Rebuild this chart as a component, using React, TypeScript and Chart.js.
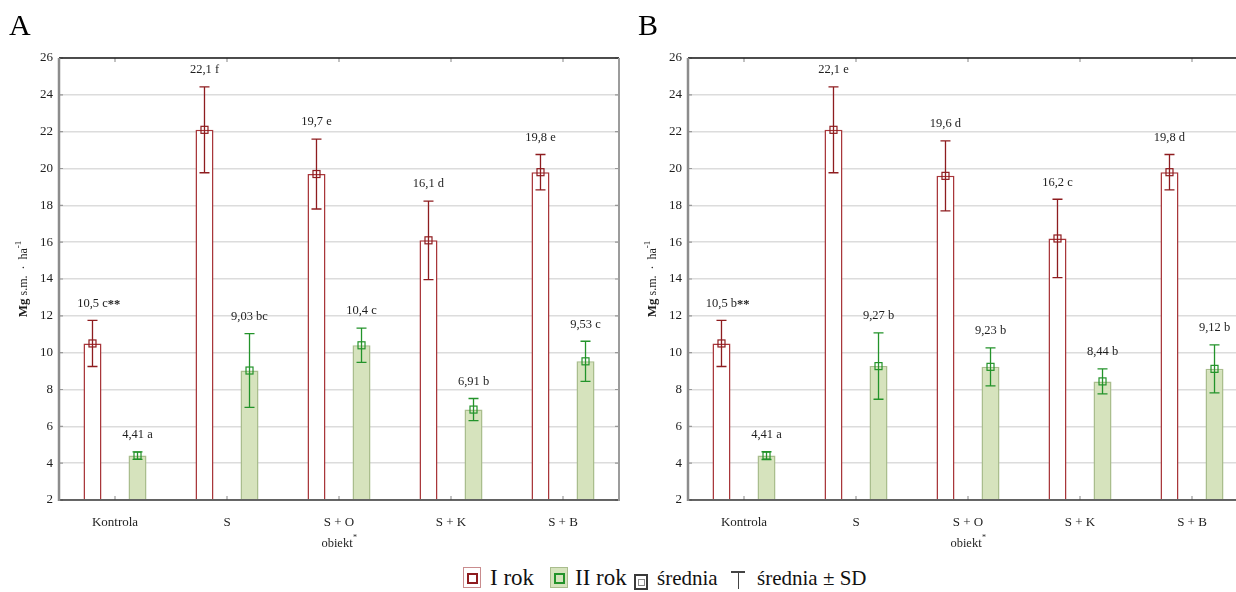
import React, { useEffect, useRef } from 'react';
import { Chart, registerables } from 'chart.js';

Chart.register(...registerables);

// ---------------- data ----------------
const categories = ['Kontrola', 'S', 'S + O', 'S + K', 'S + B'];
const yMin = 2;
const yMax = 26;
const yStep = 2;

const meanA_I = [10.5, 22.1, 19.7, 16.1, 19.8];
const sdA_I = [1.25, 2.33, 1.9, 2.13, 0.96];
const meanA_II = [4.41, 9.03, 10.4, 6.91, 9.53];
const sdA_II = [0.2, 2.0, 0.93, 0.6, 1.09];
const labelsA_I = ['10,5 c**', '22,1 f', '19,7 e', '16,1 d', '19,8 e'];
const labelsA_II = ['4,41 a', '9,03 bc', '10,4 c', '6,91 b', '9,53 c'];

const meanB_I = [10.5, 22.1, 19.6, 16.2, 19.8];
const sdB_I = [1.25, 2.33, 1.9, 2.13, 0.96];
const meanB_II = [4.41, 9.27, 9.23, 8.44, 9.12];
const sdB_II = [0.21, 1.8, 1.03, 0.68, 1.3];
const labelsB_I = ['10,5 b**', '22,1 e', '19,6 d', '16,2 c', '19,8 d'];
const labelsB_II = ['4,41 a', '9,27 b', '9,23 b', '8,44 b', '9,12 b'];

const seriesNames = ['I rok', 'II rok'];
const yTitleMain = 'Mg';
const yTitleRest = ' s.m.  \u00B7  ha';
const yTitleSup = '-1';
const xTitle = 'obiekt';
const xTitleSup = '*';

// ---------------- styles ----------------
const FONT = '"Liberation Serif", "Times New Roman", serif';
const RED_BORDER = '#a8363a';
const RED_ERR = '#8e1c1f';
const GREEN_FILL = '#d6e3bd';
const GREEN_BORDER = '#a9bd8d';
const GREEN_ERR = '#23932a';
const TEXT = '#1e1e1e';

const CANVAS_W = 640;
const CANVAS_H = 560;
const AREA_LEFT = 59;
const AREA_RIGHT = 619;
const AREA_TOP = 58;
const AREA_BOTTOM = 500;

type Panel = {
  letter: string;
  meanI: number[];
  sdI: number[];
  meanII: number[];
  sdII: number[];
  labelsI: string[];
  labelsII: string[];
};

const panels: Panel[] = [
  { letter: 'A', meanI: meanA_I, sdI: sdA_I, meanII: meanA_II, sdII: sdA_II, labelsI: labelsA_I, labelsII: labelsA_II },
  { letter: 'B', meanI: meanB_I, sdI: sdB_I, meanII: meanB_II, sdII: sdB_II, labelsI: labelsB_I, labelsII: labelsB_II },
];

function drawValueLabel(ctx: CanvasRenderingContext2D, text: string, x: number, y: number) {
  const m = text.match(/^(.*?)(\*+)$/);
  const main = m ? m[1] : text;
  const suf = m ? m[2] : '';
  ctx.font = `12.5px ${FONT}`;
  ctx.fillStyle = TEXT;
  ctx.textAlign = 'left';
  ctx.textBaseline = 'middle';
  const w = ctx.measureText(main).width;
  ctx.fillText(main, x - w / 2, y);
  if (suf) {
    ctx.font = `bold 12.5px ${FONT}`;
    ctx.fillText(suf, x + w / 2, y + 1);
  }
}

function makePlugin(p: Panel) {
  return {
    id: 'panelDecor' + p.letter,
    afterDatasetsDraw(chart: any) {
      const ctx: CanvasRenderingContext2D = chart.ctx;
      const ys = chart.scales.y;
      const sets = [
        { means: p.meanI, sds: p.sdI, labels: p.labelsI, color: RED_ERR },
        { means: p.meanII, sds: p.sdII, labels: p.labelsII, color: GREEN_ERR },
      ];
      sets.forEach((s, di) => {
        const meta = chart.getDatasetMeta(di);
        meta.data.forEach((el: any, i: number) => {
          const x = el.x;
          const yT = ys.getPixelForValue(s.means[i] + s.sds[i]);
          const yB = ys.getPixelForValue(s.means[i] - s.sds[i]);
          const yM = ys.getPixelForValue(s.means[i]);
          ctx.save();
          ctx.strokeStyle = s.color;
          ctx.lineWidth = 1.3;
          ctx.beginPath();
          ctx.moveTo(x, yT);
          ctx.lineTo(x, yB);
          ctx.moveTo(x - 5, yT);
          ctx.lineTo(x + 5, yT);
          ctx.moveTo(x - 5, yB);
          ctx.lineTo(x + 5, yB);
          ctx.stroke();
          ctx.lineWidth = 1.2;
          ctx.strokeRect(x - 3.5, yM - 3.5, 7, 7);
          drawValueLabel(ctx, s.labels[i], x, yT - 17);
          ctx.restore();
        });
      });
    },
    afterDraw(chart: any) {
      const ctx: CanvasRenderingContext2D = chart.ctx;
      const a = chart.chartArea;
      const ys = chart.scales.y;
      const xs = chart.scales.x;
      ctx.save();
      const tickVals: number[] = ys.ticks.map((t: any) => t.value);
      ctx.strokeStyle = '#9a9a9a';
      ctx.lineWidth = 1.2;
      ctx.beginPath();
      tickVals.forEach((v) => {
        const y = ys.getPixelForValue(v);
        ctx.moveTo(a.left, y);
        ctx.lineTo(a.left + 4, y);
        ctx.moveTo(a.right - 4, y);
        ctx.lineTo(a.right, y);
      });
      categories.forEach((_, i) => {
        const x = xs.getPixelForValue(i);
        ctx.moveTo(x, a.top);
        ctx.lineTo(x, a.top + 4);
        ctx.moveTo(x, a.bottom);
        ctx.lineTo(x, a.bottom - 4);
      });
      ctx.stroke();
      ctx.lineWidth = 1.5;
      ctx.strokeStyle = '#1a1a1a';
      ctx.beginPath();
      ctx.moveTo(a.left, a.top);
      ctx.lineTo(a.right, a.top);
      ctx.stroke();
      ctx.strokeStyle = '#3a3a3a';
      ctx.beginPath();
      ctx.moveTo(a.left, a.bottom);
      ctx.lineTo(a.right, a.bottom);
      ctx.stroke();
      ctx.lineWidth = 2.5;
      ctx.strokeStyle = '#8c8c8c';
      ctx.beginPath();
      ctx.moveTo(a.left, a.top);
      ctx.lineTo(a.left, a.bottom + 1);
      ctx.stroke();
      ctx.lineWidth = 2;
      ctx.strokeStyle = '#9c9c9c';
      ctx.beginPath();
      ctx.moveTo(a.right, a.top);
      ctx.lineTo(a.right, a.bottom + 1);
      ctx.stroke();

      // y title
      ctx.fillStyle = TEXT;
      ctx.translate(23, 279);
      ctx.rotate(-Math.PI / 2);
      ctx.textBaseline = 'middle';
      ctx.textAlign = 'left';
      ctx.font = `bold 13px ${FONT}`;
      const w1 = ctx.measureText(yTitleMain).width;
      ctx.font = `12px ${FONT}`;
      const w2 = ctx.measureText(yTitleRest).width;
      ctx.font = `9px ${FONT}`;
      const w3 = ctx.measureText(yTitleSup).width;
      const total = w1 + w2 + w3;
      let cx = -total / 2;
      ctx.font = `bold 13px ${FONT}`;
      ctx.fillText(yTitleMain, cx, 1);
      cx += w1;
      ctx.font = `12px ${FONT}`;
      ctx.fillText(yTitleRest, cx, 1);
      cx += w2;
      ctx.font = `9px ${FONT}`;
      ctx.fillText(yTitleSup, cx, -4);
      ctx.setTransform(1, 0, 0, 1, 0, 0);

      // x title
      ctx.font = `12.5px ${FONT}`;
      const wx = ctx.measureText(xTitle).width;
      ctx.font = `8px ${FONT}`;
      const wxs = ctx.measureText(xTitleSup).width;
      const xc = (a.left + a.right) / 2;
      const sx = xc - (wx + wxs) / 2;
      ctx.textBaseline = 'middle';
      ctx.font = `12.5px ${FONT}`;
      ctx.fillText(xTitle, sx, 544);
      ctx.font = `8px ${FONT}`;
      ctx.fillText(xTitleSup, sx + wx + 0.5, 538);

      // panel letter
      ctx.font = `30px ${FONT}`;
      ctx.textBaseline = 'alphabetic';
      ctx.fillStyle = '#000';
      ctx.fillText(p.letter, 9, 35);
      ctx.restore();
    },
  };
}

function PanelChart({ panel, left }: { panel: Panel; left: number }) {
  const ref = useRef<HTMLCanvasElement | null>(null);
  useEffect(() => {
    if (!ref.current) return;
    const chart = new Chart(ref.current, {
      type: 'bar',
      data: {
        labels: categories,
        datasets: [
          {
            label: seriesNames[0],
            data: panel.meanI,
            backgroundColor: '#ffffff',
            borderColor: RED_BORDER,
            borderWidth: 1.5,
            base: yMin,
            categoryPercentage: 0.804,
            barPercentage: 0.4,
          } as any,
          {
            label: seriesNames[1],
            data: panel.meanII,
            backgroundColor: GREEN_FILL,
            borderColor: GREEN_BORDER,
            borderWidth: 1.5,
            base: yMin,
            categoryPercentage: 0.804,
            barPercentage: 0.4,
          } as any,
        ],
      },
      options: {
        animation: false,
        responsive: false,
        maintainAspectRatio: false,
        layout: { padding: { left: 0, right: CANVAS_W - AREA_RIGHT, top: AREA_TOP, bottom: 0 } },
        plugins: { legend: { display: false }, tooltip: { enabled: false } },
        scales: {
          x: {
            grid: { display: false },
            border: { display: false },
            ticks: { font: { family: FONT, size: 13 }, color: TEXT, padding: 7, maxRotation: 0 },
            afterFit: (s: any) => {
              s.height = CANVAS_H - AREA_BOTTOM;
            },
          },
          y: {
            min: yMin,
            max: yMax,
            ticks: { stepSize: yStep, font: { family: FONT, size: 13 }, color: TEXT, padding: 6 },
            grid: { color: '#dcdcdc', lineWidth: 1.5, drawTicks: false },
            border: { display: false },
            afterFit: (s: any) => {
              s.width = AREA_LEFT;
            },
          },
        },
      } as any,
      plugins: [makePlugin(panel) as any],
    });
    return () => chart.destroy();
  }, [panel]);
  return (
    <canvas
      ref={ref}
      width={CANVAS_W}
      height={CANVAS_H}
      style={{ position: 'absolute', left, top: 0, width: CANVAS_W, height: CANVAS_H }}
    />
  );
}

const legendText: React.CSSProperties = {
  position: 'absolute',
  fontFamily: FONT,
  color: '#111',
  whiteSpace: 'nowrap',
  lineHeight: '28px',
  top: 564,
};

export default function App() {
  return (
    <div
      style={{
        position: 'absolute',
        left: 0,
        top: 0,
        width: 1236,
        height: 592,
        overflow: 'hidden',
        background: '#fff',
      }}
    >
      <PanelChart panel={panels[0]} left={0} />
      <PanelChart panel={panels[1]} left={629} />
      {/* legend */}
      <div style={{ position: 'absolute', left: 463, top: 567, width: 16, height: 19, border: '1.5px solid #c98c8e', background: '#fff' }}>
        <div style={{ position: 'absolute', left: 2.5, top: 4.5, width: 7, height: 7, border: `2.2px solid ${RED_ERR}` }} />
      </div>
      <div style={{ ...legendText, left: 490, fontSize: 23 }}>{seriesNames[0]}</div>
      <div style={{ position: 'absolute', left: 550, top: 567, width: 16, height: 19, border: `1.5px solid ${GREEN_BORDER}`, background: GREEN_FILL }}>
        <div style={{ position: 'absolute', left: 2.5, top: 4.5, width: 7, height: 7, border: `2.2px solid ${GREEN_ERR}` }} />
      </div>
      <div style={{ ...legendText, left: 575, fontSize: 23 }}>{seriesNames[1]}</div>
      <div style={{ position: 'absolute', left: 634, top: 574, width: 10, height: 12, border: '2px solid #3a3a3a', background: '#fff' }}>
        <div style={{ position: 'absolute', left: 1.5, top: 2.5, width: 5, height: 5, border: '1px solid #888' }} />
      </div>
      <div style={{ ...legendText, left: 657, fontSize: 21 }}>średnia</div>
      <div style={{ position: 'absolute', left: 731, top: 571, width: 14, height: 1.5, background: '#444' }} />
      <div style={{ position: 'absolute', left: 737.5, top: 571, width: 1.5, height: 18, background: '#444' }} />
      <div style={{ ...legendText, left: 757, fontSize: 21 }}>średnia ± SD</div>
    </div>
  );
}
